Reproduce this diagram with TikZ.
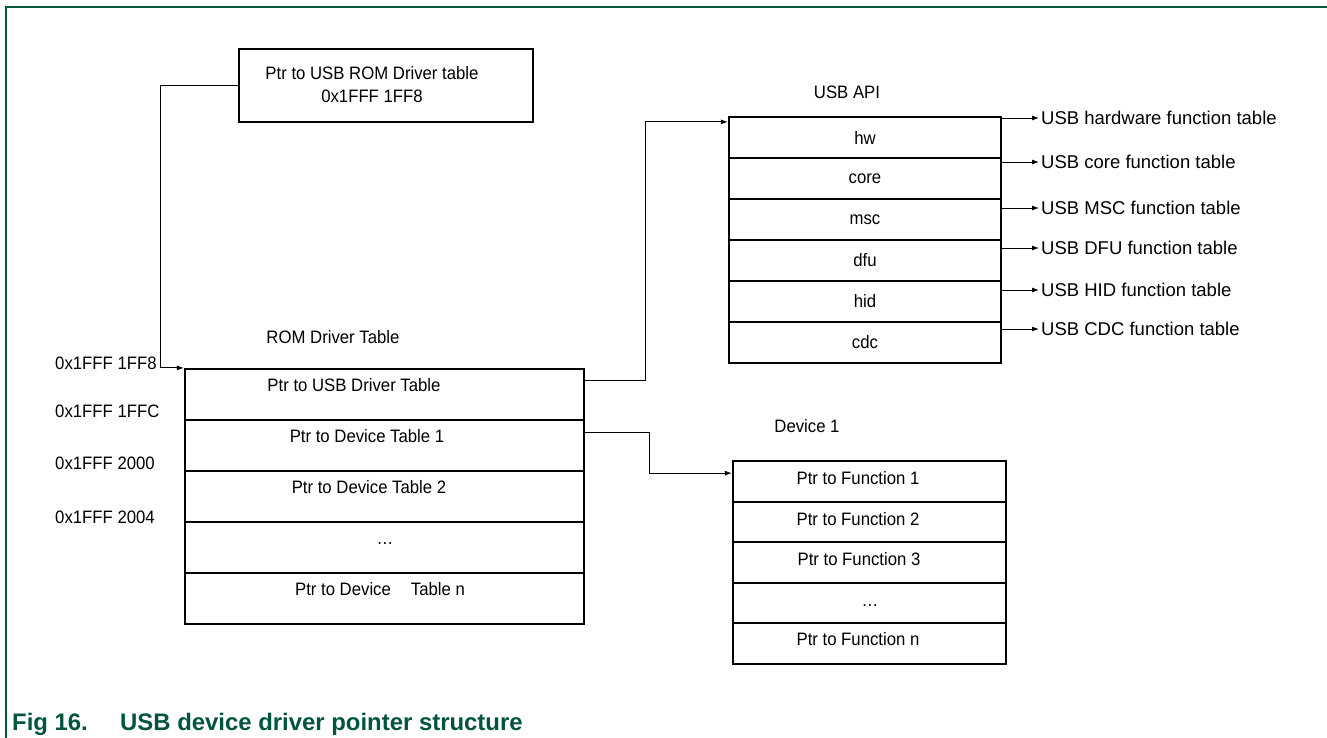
\documentclass[tikz,border=0pt]{standalone}
\usepackage{fontspec}
\setmainfont{Liberation Sans}
\newfontfamily\narrowfont[FakeStretch=0.93]{Liberation Sans}
\usetikzlibrary{arrows.meta}
\definecolor{nxpgreen}{RGB}{0,84,64}
\tikzstyle{cell}=[draw,line width=2.2pt,inner sep=0pt]
\tikzstyle{romrow}=[cell,minimum width=399pt,minimum height=51pt]
\tikzstyle{apirow}=[cell,minimum width=272pt,minimum height=41pt,font=\narrowfont\fontsize{18}{20}\selectfont]
\tikzstyle{devrow}=[cell,minimum width=273pt,minimum height=40.5pt]
\tikzstyle{txt}=[inner sep=0pt,font=\narrowfont\fontsize{18}{23}\selectfont]
\tikzstyle{fnlabel}=[anchor=west,inner xsep=2pt,inner ysep=0pt,font=\fontsize{18.5}{20}\selectfont]
\tikzstyle{link}=[line width=0.9pt,-{Latex[length=7pt,width=5pt]}]

\begin{document}
\begin{tikzpicture}[x=1pt,y=-1pt]
    \useasboundingbox (0,0) rectangle (1327,738);
    \draw[nxpgreen,line width=1.5pt] (1327,7) -- (6,7) -- (6,738);

    \node[cell,minimum width=294pt,minimum height=73pt] (romptr) at (386,85.5) {};
    \node[txt,align=center] (romptrtxt) at (372,85) {Ptr to USB ROM Driver table\\0x1FFF 1FF8};

    \node[txt] (romtitle) at (333,337) {ROM Driver Table};
    \foreach \i/\y in {1/394.5,2/445.5,3/496.5,4/547.5,5/598.5}
    \node[romrow] (rom\i) at (384.5,\y) {};
    \foreach \i/\x/\y/\lbl in {1/354/385/Ptr to USB Driver Table,2/367/436/Ptr to Device Table 1,
        3/369/487/Ptr to Device Table 2,4/385/544/\dots,5/380/589/Ptr to Device\hspace{20pt}Table n}
    \node[txt] (romtxt\i) at (\x,\y) {\lbl};
    \foreach \i/\y/\lbl in {1/363/0x1FFF 1FF8,2/411/0x1FFF 1FFC,3/463/0x1FFF 2000,4/517/0x1FFF 2004}
    \node[txt,anchor=west] (addr\i) at (55,\y) {\lbl};

    \node[txt] (apititle) at (847,92) {USB API};
    \foreach \i/\lbl in {1/hw,2/core,3/msc,4/dfu,5/hid,6/cdc}
    \node[apirow] (api\i) at (865,{96.5+41*\i}) {\lbl};
    \foreach \i/\y/\lbl in {1/118/hardware,2/162/core,3/208/MSC,4/248/DFU,5/290/HID,6/329/CDC}
    {
        \node[fnlabel] (fn\i) at (1039,\y) {USB \lbl\ function table};
        \draw[link] (fn\i.west -| api\i.east) -- (fn\i.west);
    }

    \node[txt] (devtitle) at (807,426) {Device 1};
    \foreach \i in {1,...,5}
    \node[devrow] (dev\i) at (869.5,{441+40.5*\i}) {};
    \foreach \i/\x/\y/\lbl in {1/858/478/Ptr to Function 1,2/858/519/Ptr to Function 2,
        3/859/559/Ptr to Function 3,4/870/606/\dots,5/858/639/Ptr to Function n}
    \node[txt] (devtxt\i) at (\x,\y) {\lbl};

    \draw[link] (romptr.west) -| ([xshift=-23pt]rom1.north west) -- (rom1.north west);
    \draw[link] ([yshift=14.5pt]rom1.east) -| ([xshift=-82pt,yshift=-6pt]api1.north west) -- ([yshift=-6pt]api1.north west);
    \draw[link] ([yshift=13.5pt]rom2.east) -| ([xshift=-82pt,yshift=-13pt]dev1.north west) -- ([yshift=-13pt]dev1.north west);

    \node[anchor=base west,inner sep=0pt,text=nxpgreen,font=\bfseries\fontsize{23.9}{26}\selectfont] (caption)
        at (12,730.5) {\makebox[108pt][l]{Fig 16.}USB device driver pointer structure};
\end{tikzpicture}
\end{document}
